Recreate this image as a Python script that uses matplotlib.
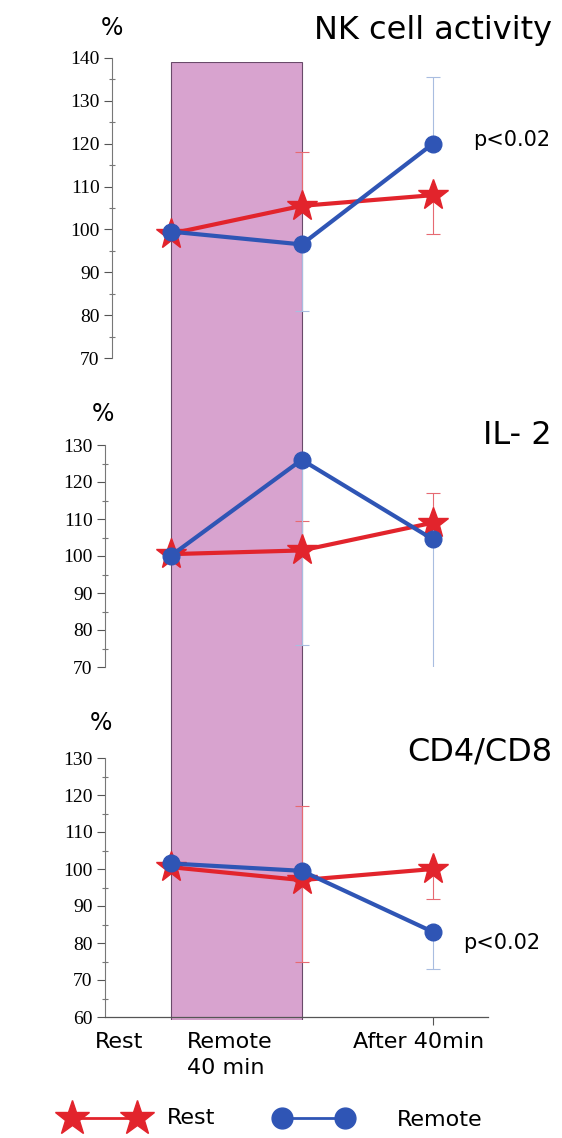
import matplotlib.pyplot as plt
from matplotlib.ticker import MultipleLocator

# Время измерения: 0 = Rest, 1 = Remote 40 min, 2 = After 40min
times = [0, 1, 2]

# NK cell activity
nk_rest = [99, 105.5, 108]
nk_remote = [99.5, 96.5, 120]
nk_rest_err_lo = [0, 0, 9]
nk_rest_err_hi = [0, 12.5, 0]
nk_remote_err_lo = [0, 15.5, 0]
nk_remote_err_hi = [0, 0, 15.5]

# IL-2
il_rest = [100.5, 101.5, 109]
il_remote = [100, 126, 104.5]
il_rest_err_lo = [0, 0, 0]
il_rest_err_hi = [0, 8, 8]
il_remote_err_lo = [0, 50, 35.5]
il_remote_err_hi = [0, 0, 0]

# CD4/CD8
cd_rest = [100.5, 97, 100]
cd_remote = [101.5, 99.5, 83]
cd_rest_err_lo = [0, 22, 8]
cd_rest_err_hi = [0, 20, 0]
cd_remote_err_lo = [0, 0, 10]
cd_remote_err_hi = [0, 0, 0]

x_labels = ['Rest', 'Remote\n40 min', 'After 40min']

RED = '#e2242c'
BLUE = '#2f55b5'
RED_ERR = '#e66a72'
BLUE_ERR = '#a9bde0'
SHADE = '#d8a3cf'

W, H = 562, 1138
fig = plt.figure(figsize=(W / 100, H / 100), dpi=100)

XL, XR = 105, 488
PX_PER_UNIT = 131.0
xlim = (-0.5, 2.42)


def box(top, bottom, left=XL):
    """пиксели -> координаты фигуры"""
    return [left / W, 1 - bottom / H, (XR - left) / W, (bottom - top) / H]


# Фон с прямоугольником периода Remote
bg = fig.add_axes(box(62, 1020), zorder=0)
bg.set_xlim(xlim)
bg.set_ylim(0, 1)
bg.axvspan(times[0], times[1], color=SHADE, ec='#6a4a6a', lw=0.8)
bg.axis('off')

panels = [
    (58, 358, 112, (70, 140), nk_rest, nk_remote,
     (nk_rest_err_lo, nk_rest_err_hi), (nk_remote_err_lo, nk_remote_err_hi)),
    (445, 667, 105, (70, 130), il_rest, il_remote,
     (il_rest_err_lo, il_rest_err_hi), (il_remote_err_lo, il_remote_err_hi)),
    (758, 1017, 105, (60, 130), cd_rest, cd_remote,
     (cd_rest_err_lo, cd_rest_err_hi), (cd_remote_err_lo, cd_remote_err_hi)),
]

axes = []
for top, bottom, left, ylim, rest, remote, rerr, berr in panels:
    ax = fig.add_axes(box(top, bottom, left), zorder=1)
    ax.patch.set_alpha(0)
    ax.set_xlim(xlim[0] + (left - XL) / PX_PER_UNIT, xlim[1])
    ax.set_ylim(ylim)
    ax.errorbar(times, rest, yerr=[rerr[0], rerr[1]], fmt='none', ecolor=RED_ERR,
                elinewidth=0.8, capsize=5, capthick=0.8, zorder=2)
    ax.errorbar(times, remote, yerr=[berr[0], berr[1]], fmt='none', ecolor=BLUE_ERR,
                elinewidth=0.8, capsize=5, capthick=0.8, zorder=2)
    ax.plot(times, rest, color=RED, lw=3, marker='*', ms=23, mec=RED, zorder=3)
    ax.plot(times, remote, color=BLUE, lw=3, marker='o', ms=12, mec=BLUE, zorder=4)
    for s in ['top', 'right', 'bottom']:
        ax.spines[s].set_visible(False)
    ax.spines['left'].set_color('#777777')
    ax.spines['left'].set_linewidth(0.8)
    ax.yaxis.set_major_locator(MultipleLocator(10))
    ax.yaxis.set_minor_locator(MultipleLocator(5))
    ax.tick_params(axis='y', which='major', length=6, width=0.8, color='#555555',
                   labelsize=14, pad=3)
    ax.tick_params(axis='y', which='minor', length=4, width=0.8, color='#777777',
                   direction='inout')
    for lab in ax.get_yticklabels():
        lab.set_fontfamily('Liberation Serif')
    ax.set_xticks([])
    axes.append(ax)

# Нижняя ось X
ax3 = axes[2]
ax3.spines['bottom'].set_visible(True)
ax3.spines['bottom'].set_color('#555555')
ax3.spines['bottom'].set_linewidth(0.9)
ax3.set_xticks([times[2]])
ax3.set_xticklabels([''])
ax3.tick_params(axis='x', length=6, width=0.8, color='#555555')

lab_font = dict(fontsize=16, family='DejaVu Sans', color='black')
fig.text(119 / W, 1 - 1042 / H, x_labels[0], ha='center', va='center', **lab_font)
fig.text(187 / W, 1 - 1032 / H, x_labels[1], ha='left', va='top', linespacing=1.4,
         **lab_font)
fig.text(419 / W, 1 - 1042 / H, x_labels[2], ha='center', va='center', **lab_font)

# Заголовки панелей
fig.text(552 / W, 1 - 30 / H, 'NK cell activity', ha='right', va='center', fontsize=23)
fig.text(552 / W, 1 - 436 / H, 'IL- 2', ha='right', va='center', fontsize=23)
fig.text(552 / W, 1 - 752 / H, 'CD4/CD8', ha='right', va='center', fontsize=23)
for px, py in [(112, 28), (103, 414), (101, 723)]:
    fig.text(px / W, 1 - py / H, '%', ha='center', va='center', fontsize=17)

fig.text(473 / W, 1 - 140 / H, 'p<0.02', ha='left', va='center', fontsize=15)
fig.text(463 / W, 1 - 943 / H, 'p<0.02', ha='left', va='center', fontsize=15)

# Легенда
leg = fig.add_axes([0, 0, 1, 1], zorder=2)
leg.set_xlim(0, W)
leg.set_ylim(H, 0)
leg.axis('off')
leg.plot([72, 137], [1118, 1118], color=RED, lw=2, marker='*', ms=26, mec=RED)
leg.plot([282, 345], [1118, 1118], color=BLUE, lw=2, marker='o', ms=15, mec=BLUE)
leg.text(167, 1118, 'Rest', ha='left', va='center', fontsize=16)
leg.text(397, 1120, 'Remote', ha='left', va='center', fontsize=16)

fig.savefig('out.png', dpi=100, facecolor='white')
